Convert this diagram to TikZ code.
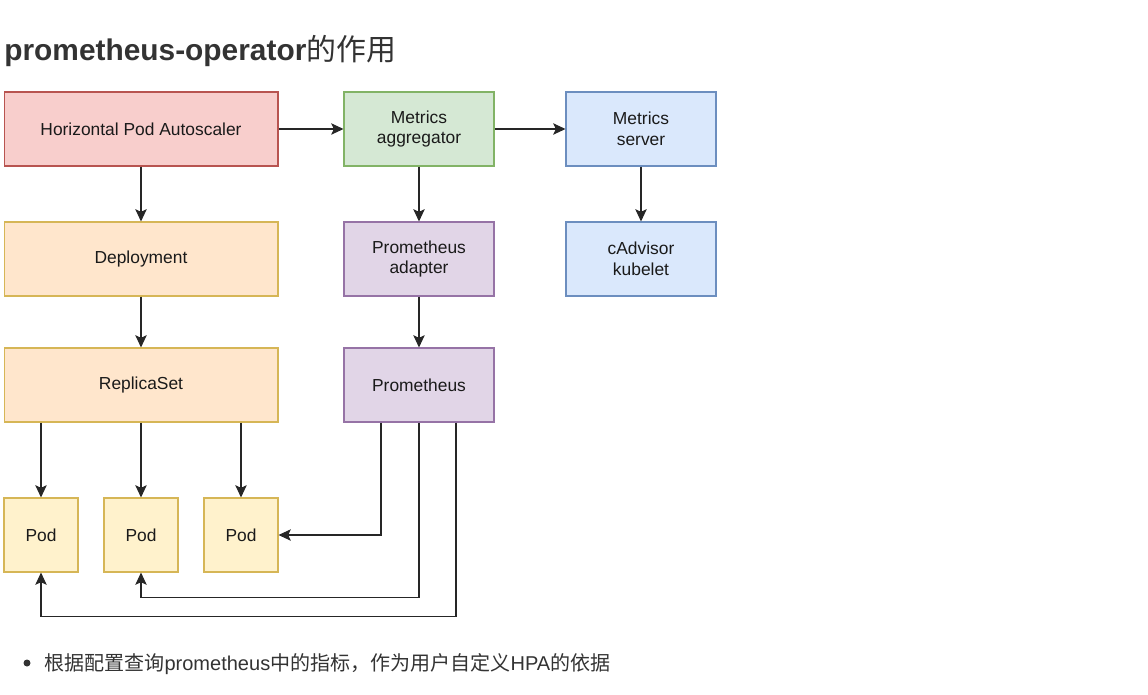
\documentclass[tikz,border=0pt]{standalone}
\usepackage{fontspec}
\setmainfont{Liberation Sans}
\newfontfamily\cjk{Noto Sans CJK SC}
\usetikzlibrary{positioning, arrows.meta}

\definecolor{hpafill}{HTML}{F8CECC}
\definecolor{hpaline}{HTML}{B85450}
\definecolor{aggfill}{HTML}{D5E8D4}
\definecolor{aggline}{HTML}{82B366}
\definecolor{srvfill}{HTML}{DAE8FC}
\definecolor{srvline}{HTML}{6C8EBF}
\definecolor{depfill}{HTML}{FFE6CC}
\definecolor{depline}{HTML}{D6B656}
\definecolor{promfill}{HTML}{E1D5E7}
\definecolor{promline}{HTML}{9673A6}
\definecolor{podfill}{HTML}{FFF2CC}
\definecolor{podline}{HTML}{D6B656}
\definecolor{titletext}{HTML}{333333}
\definecolor{boxtext}{HTML}{1A1A1A}

\begin{document}
\begin{tikzpicture}[
        x=0.02cm, y=-0.02cm,
        box/.style={rectangle, draw, line width=0.6pt, minimum height=1.48cm, align=center, text=boxtext, font=\fontsize{9.9}{11.9}\selectfont, inner sep=0pt},
        wide/.style={box, minimum width=5.48cm},
        narrow/.style={box, minimum width=3cm},
        podbox/.style={box, minimum width=1.48cm, fill=podfill, draw=podline},
        arrow/.style={-{Stealth[length=7pt, width=6.5pt, inset=1.5pt]}, line width=0.6pt, black!85}
    ]
    \useasboundingbox (0,0) rectangle (1148,694);

    % Title
    \node[anchor=base west, inner sep=0pt, text=titletext, font=\fontsize{17}{20}\selectfont] (title) at (4,60) {\textbf{prometheus-operator}{\cjk 的作用}};

    % Row 1
    \node[wide, fill=hpafill, draw=hpaline] (hpa) at (141,129) {Horizontal Pod Autoscaler};
    \node[narrow, fill=aggfill, draw=aggline] (agg) at (419,129) {Metrics\\aggregator};
    \node[narrow, fill=srvfill, draw=srvline] (server) at (641,129) {Metrics\\server};

    % Row 2
    \node[wide, fill=depfill, draw=depline] (deploy) at (141,259) {Deployment};
    \node[narrow, fill=promfill, draw=promline] (adapter) at (419,259) {Prometheus\\adapter};
    \node[narrow, fill=srvfill, draw=srvline] (cadvisor) at (641,259) {cAdvisor\\kubelet};

    % Row 3
    \node[wide, fill=depfill, draw=depline] (rs) at (141,385) {ReplicaSet};
    \node[narrow, fill=promfill, draw=promline] (prom) at (419,385) {Prometheus};

    % Pods
    \node[podbox] (pod1) at (41,535) {Pod};
    \node[podbox] (pod2) at (141,535) {Pod};
    \node[podbox] (pod3) at (241,535) {Pod};

    % Arrows
    \draw[arrow] (hpa) -- (agg);
    \draw[arrow] (agg) -- (server);
    \draw[arrow] (hpa) -- (deploy);
    \draw[arrow] (deploy) -- (rs);
    \draw[arrow] (agg) -- (adapter);
    \draw[arrow] (adapter) -- (prom);
    \draw[arrow] (server) -- (cadvisor);
    \draw[arrow] (rs.south -| pod1) -- (pod1);
    \draw[arrow] (rs.south -| pod2) -- (pod2);
    \draw[arrow] (rs.south -| pod3) -- (pod3);

    % Prometheus to pods
    \draw[arrow] ([xshift=-0.76cm]prom.south) |- (pod3);
    \draw[arrow] (prom.south) -- ++(0,175) -| (pod2);
    \draw[arrow] ([xshift=0.74cm]prom.south) -- ++(0,194) -| (pod1);

    % Bullet
    \fill[titletext] (27,663) circle (3.5) coordinate (dot);
    \node[anchor=base west, inner sep=0pt, text=titletext, font=\fontsize{11.4}{13}\selectfont] (note) at (44,670) {{\cjk 根据配置查询}prometheus{\cjk 中的指标，作为用户自定义}HPA{\cjk 的依据}};

\end{tikzpicture}
\end{document}
